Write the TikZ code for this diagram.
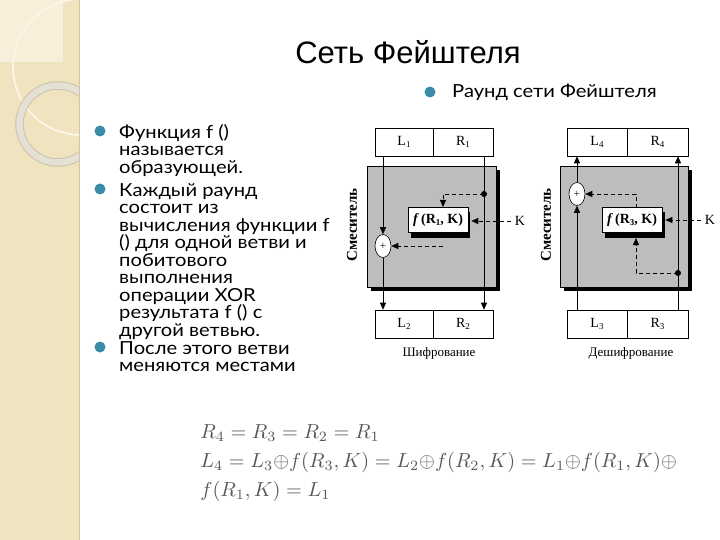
\documentclass[tikz,border=0pt]{standalone}
\usepackage{fontspec}
\setmainfont{Liberation Serif}
\newfontfamily\titlefont{Liberation Sans}
\newfontfamily\bodyfont{Lato}
\usetikzlibrary{arrows.meta,shapes.geometric}
\definecolor{beige}{HTML}{F0E4C0}
\definecolor{beigelight}{HTML}{F7EFD9}
\definecolor{beigeline}{HTML}{D6C69C}
\definecolor{arcc}{HTML}{FBF6E6}
\definecolor{ringc}{HTML}{E4E0D5}
\definecolor{ringedge}{HTML}{CDC3AA}
\definecolor{bullc}{HTML}{3A8CA8}
\definecolor{panelc}{HTML}{BDBDBD}
\definecolor{eqc}{HTML}{585858}
\newcommand{\sbs}[1]{\raisebox{-0.35ex}{\fontsize{9}{9}\selectfont #1}}
\newcommand{\topstrut}{\rule{0pt}{14pt}}
\newcommand{\paratext}[1]{\begin{minipage}[t]{220pt}\raggedright\lineskiplimit=-30pt\relax\topstrut #1\end{minipage}}
\begin{document}
\begin{tikzpicture}[x=1pt,y=-1pt,
  bodytext/.style={font=\bodyfont\fontsize{18}{17.5}\selectfont, inner sep=0, anchor=north west, xscale=1.12},
  headtext/.style={font=\bodyfont\fontsize{18}{17.5}\selectfont, inner sep=0, anchor=base west, xscale=1.12},
  bul/.style={circle, fill=bullc, minimum size=11pt, inner sep=0},
  regc/.style={draw, fill=white, minimum height=28pt, inner sep=0, line width=0.6pt, font=\fontsize{14}{16}\selectfont},
  fboxc/.style={draw, fill=white, minimum width=60pt, minimum height=25pt, inner sep=0, line width=0.6pt, font=\bfseries\fontsize{14}{16}\selectfont},
  xorc/.style={ellipse, draw, fill=white, minimum width=16pt, minimum height=23pt, inner sep=0, line width=0.6pt, font=\fontsize{11}{11}\selectfont},
  dotc/.style={circle, fill=black, minimum size=6pt, inner sep=0},
  arr/.style={-{Triangle[length=7pt,width=6pt]}, line width=0.7pt},
  darr/.style={-{Triangle[length=7pt,width=6pt]}, line width=0.8pt, dash pattern=on 4pt off 3pt},
  mixc/.style={rotate=90, font=\bfseries\fontsize{15}{16}\selectfont},
  capc/.style={font=\fontsize{13}{15}\selectfont, inner sep=0},
  kc/.style={font=\fontsize{14}{16}\selectfont, inner sep=4pt},
  eq/.style={text=eqc, scale=2.03, inner sep=0, anchor=base west}]
\useasboundingbox (0,0) rectangle (720,540);
\fill[white] (0,0) rectangle (720,540);
% decorative left strip
\fill[beige] (0,0) rectangle (79,540);
\fill[beigelight] (0,0) rectangle (63,62);
\begin{scope}
  \clip (0,0) rectangle (79,540);
  \draw[arcc, line width=1.8pt] (81,67) circle[radius=68pt];
  \draw[ringedge, line width=8.5pt] (58,124) circle[radius=38.5pt];
  \draw[ringc, line width=6.5pt] (58,124) circle[radius=38.5pt];
\end{scope}
\draw[beigeline, line width=1pt] (79.5,0) -- (79.5,540);

% title
\node[font=\titlefont\fontsize{31}{36}\selectfont, anchor=base, inner sep=0] (title) at (408,64) {Сеть Фейштеля};

% right heading bullet
\node[bul] (b0) at (430,92) {};
\node[headtext] (h0) at (452,98) {Раунд сети Фейштеля};

% left bullets
\node[bul] (b1) at (100,131) {};
\node[bul] (b2) at (100,189) {};
\node[bul] (b3) at (100,347) {};
\node[bodytext] (p1) at (119,124) {\paratext{Функция f ()\\называется\\образующей.}};
\node[bodytext] (p2) at (119,182) {\paratext{Каждый раунд\\состоит из\\вычисления функции f\\() для одной ветви и\\побитового\\выполнения\\операции XOR\\результата f () с\\другой ветвью.}};
\node[bodytext] (p3) at (119,340) {\paratext{После этого ветви\\меняются местами}};

% ===== left diagram: encryption =====
\fill[black] (371,170) rectangle (500,291);
\draw[fill=panelc, line width=0.6pt] (367,166) rectangle (496,287);
\node[mixc] (mixL) at (352,225) {Смеситель};
\node[regc, minimum width=58pt] (L1) at (404,142) {L\sbs{1}};
\node[regc, minimum width=60pt] (R1) at (463,142) {R\sbs{1}};
\node[regc, minimum width=58pt] (L2) at (404,324) {L\sbs{2}};
\node[regc, minimum width=60pt] (R2) at (463,324) {R\sbs{2}};
\fill[black] (411,212) rectangle (470,238);
\node[fboxc] (fL) at (438,220) {\textit{f}\,(R\sbs{1}, K)};
\node[xorc] (xL) at (383,246) {+};
\node[dotc] (dL) at (484,194) {};
\node[kc] (KL) at (520,221) {K};
\node[capc] (capL) at (439,353) {Шифрование};
\coordinate (fLin) at (443,207);
\coordinate (fLout) at (443,246);
\draw[arr] (L1.south -| xL) -- (xL.north);
\draw[arr] (xL.south) -- (L2.north -| xL);
\draw[arr] (R1.south -| dL) -- (R2.north -| dL);
\draw[darr] (dL.center) -| (fLin);
\draw[darr] (KL.west) -- ([xshift=3pt]fL.east |- KL.west);
\draw[darr] (fLout) -- (xL.east);

% ===== right diagram: decryption =====
\fill[black] (564,170) rectangle (692,291);
\draw[fill=panelc, line width=0.6pt] (560,166) rectangle (688,287);
\node[mixc] (mixR) at (546,225) {Смеситель};
\node[regc, minimum width=60pt] (L4) at (597,142) {L\sbs{4}};
\node[regc, minimum width=61pt] (R4) at (657.5,142) {R\sbs{4}};
\node[regc, minimum width=60pt] (L3) at (597,324) {L\sbs{3}};
\node[regc, minimum width=61pt] (R3) at (657.5,324) {R\sbs{3}};
\fill[black] (605,212) rectangle (665,238);
\node[fboxc] (fR) at (632,220) {\textit{f}\,(R\sbs{3}, K)};
\node[xorc] (xR) at (577,194) {+};
\node[dotc] (dR) at (678,273) {};
\node[kc] (KR) at (710,220) {K};
\node[capc] (capR) at (631,353) {Дешифрование};
\coordinate (fRin) at (636,238);
\coordinate (fRout) at (636,208);
\draw[arr] (L3.north -| xR) -- (xR.south);
\draw[arr] (xR.north) -- (L4.south -| xR);
\draw[arr] (R3.north -| dR) -- (R4.south -| dR);
\draw[darr] (dR.center) -| (fRin);
\draw[darr] (KR.west) -- ([xshift=3pt]fR.east |- KR.west);
\draw[darr] (fRout) |- (xR.east);

% ===== equations =====
\node[eq] (eq1) at (200,438) {$R_4=R_3=R_2=R_1$};
\node[eq] (eq2) at (200,467) {$L_4=L_3{\oplus}f(R_3,K)=L_2{\oplus}f(R_2,K)=L_1{\oplus}f(R_1,K){\oplus}$};
\node[eq] (eq3) at (200,496) {$f(R_1,K)=L_1$};
\end{tikzpicture}
\end{document}
